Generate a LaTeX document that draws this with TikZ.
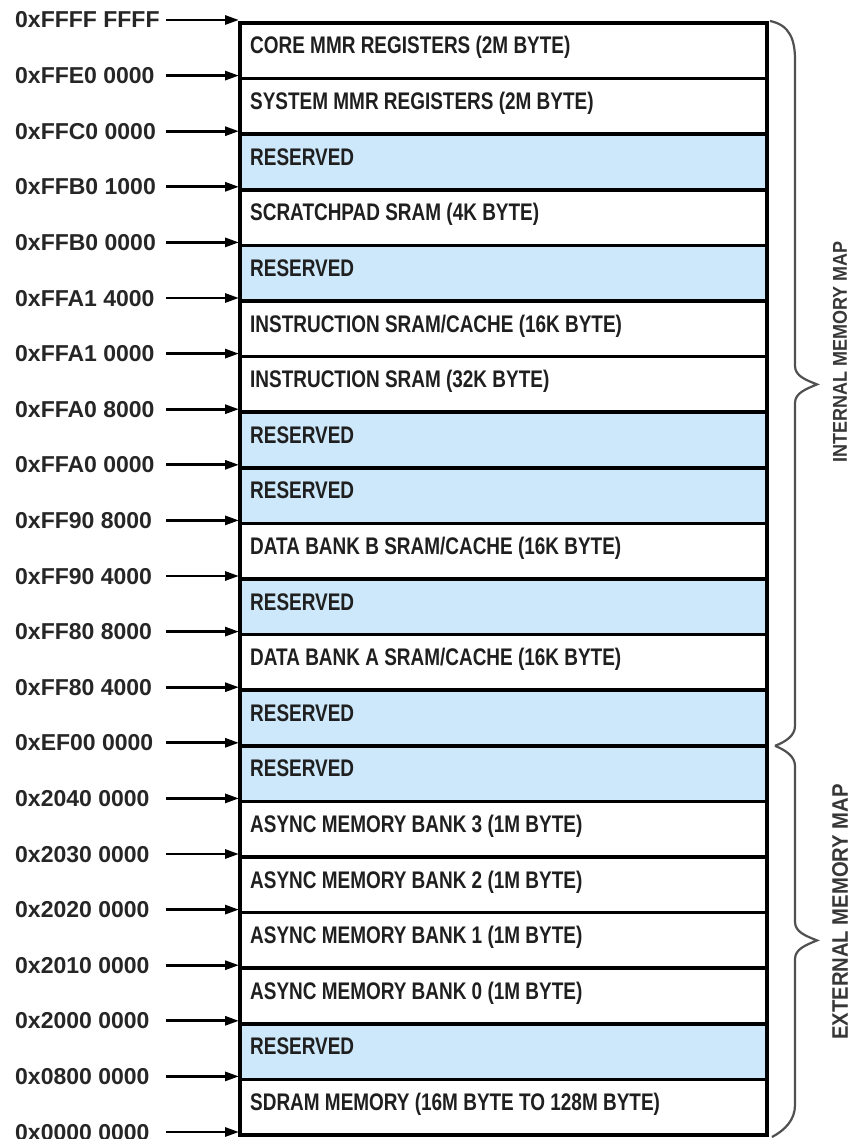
\documentclass[tikz,border=0pt]{standalone}
\usepackage{fontspec}
\setmainfont{Liberation Sans}
\newfontfamily\rowfont{Liberation Sans}[FakeStretch=0.79]
\newfontfamily\addrfont{Liberation Sans}[FakeStretch=1.0]
\newfontfamily\mapfont{Liberation Sans}[FakeStretch=0.9]
\usetikzlibrary{arrows.meta}
\definecolor{resblue}{RGB}{204,232,250}
\definecolor{bracegray}{RGB}{80,80,80}
\definecolor{maptext}{RGB}{55,55,55}
\tikzset{
  rowtext/.style={anchor=base west, inner sep=0pt, font=\rowfont\bfseries\fontsize{24}{26}\selectfont, text=black!88},
  addrtext/.style={anchor=base west, inner sep=0pt, font=\addrfont\bfseries\fontsize{23}{25}\selectfont, text=black!85},
  addrarrow/.style={line width=2.8pt, -{Triangle[length=14pt,width=9pt]}},
  sepline/.style={line width=3.5pt},
  frameline/.style={line width=3.5pt},
  bracepath/.style={line width=2.2pt, draw=bracegray},
  maplabel/.style={rotate=90, inner sep=0pt, text=maptext}
}
\begin{document}
\begin{tikzpicture}[x=1pt,y=-1pt]
\useasboundingbox (0,0) rectangle (853,1139);
\fill[white] (0,0) rectangle (853,1139);

% reserved fills
\foreach \k in {2,4,7,8,10,12,13,18}
  \fill[resblue] (240,{23+55.6*\k}) rectangle (767,{23+55.6*(\k+1)});

% separators
\foreach \k in {0,...,20}
  \draw[sepline] (240,{23+55.6*\k}) -- (767,{23+55.6*\k});
\draw[frameline] (240,21.25) -- (240,1136.75);
\draw[frameline] (767,21.25) -- (767,1136.75);

% row texts
\node[rowtext] (t0)  at (250,{23+55.6*0+31})  {CORE MMR REGISTERS (2M BYTE)};
\node[rowtext] (t1)  at (250,{23+55.6*1+31})  {SYSTEM MMR REGISTERS (2M BYTE)};
\node[rowtext] (t2)  at (250,{23+55.6*2+31})  {RESERVED};
\node[rowtext] (t3)  at (250,{23+55.6*3+31})  {SCRATCHPAD SRAM (4K BYTE)};
\node[rowtext] (t4)  at (250,{23+55.6*4+31})  {RESERVED};
\node[rowtext] (t5)  at (250,{23+55.6*5+31})  {INSTRUCTION SRAM/CACHE (16K BYTE)};
\node[rowtext] (t6)  at (250,{23+55.6*6+31})  {INSTRUCTION SRAM (32K BYTE)};
\node[rowtext] (t7)  at (250,{23+55.6*7+31})  {RESERVED};
\node[rowtext] (t8)  at (250,{23+55.6*8+31})  {RESERVED};
\node[rowtext] (t9)  at (250,{23+55.6*9+31})  {DATA BANK B SRAM/CACHE (16K BYTE)};
\node[rowtext] (t10) at (250,{23+55.6*10+31}) {RESERVED};
\node[rowtext] (t11) at (250,{23+55.6*11+31}) {DATA BANK A SRAM/CACHE (16K BYTE)};
\node[rowtext] (t12) at (250,{23+55.6*12+31}) {RESERVED};
\node[rowtext] (t13) at (250,{23+55.6*13+31}) {RESERVED};
\node[rowtext] (t14) at (250,{23+55.6*14+31}) {ASYNC MEMORY BANK 3 (1M BYTE)};
\node[rowtext] (t15) at (250,{23+55.6*15+31}) {ASYNC MEMORY BANK 2 (1M BYTE)};
\node[rowtext] (t16) at (250,{23+55.6*16+31}) {ASYNC MEMORY BANK 1 (1M BYTE)};
\node[rowtext] (t17) at (250,{23+55.6*17+31}) {ASYNC MEMORY BANK 0 (1M BYTE)};
\node[rowtext] (t18) at (250,{23+55.6*18+31}) {RESERVED};
\node[rowtext] (t19) at (250,{23+55.6*19+31}) {SDRAM MEMORY (16M BYTE TO 128M BYTE)};

% address labels
\node[addrtext] (a0)  at (15,{23+55.6*0+5})  {0xFFFF FFFF};
\node[addrtext] (a1)  at (15,{23+55.6*1+5})  {0xFFE0 0000};
\node[addrtext] (a2)  at (15,{23+55.6*2+5})  {0xFFC0 0000};
\node[addrtext] (a3)  at (15,{23+55.6*3+5})  {0xFFB0 1000};
\node[addrtext] (a4)  at (15,{23+55.6*4+5})  {0xFFB0 0000};
\node[addrtext] (a5)  at (15,{23+55.6*5+5})  {0xFFA1 4000};
\node[addrtext] (a6)  at (15,{23+55.6*6+5})  {0xFFA1 0000};
\node[addrtext] (a7)  at (15,{23+55.6*7+5})  {0xFFA0 8000};
\node[addrtext] (a8)  at (15,{23+55.6*8+5})  {0xFFA0 0000};
\node[addrtext] (a9)  at (15,{23+55.6*9+5})  {0xFF90 8000};
\node[addrtext] (a10) at (15,{23+55.6*10+5}) {0xFF90 4000};
\node[addrtext] (a11) at (15,{23+55.6*11+5}) {0xFF80 8000};
\node[addrtext] (a12) at (15,{23+55.6*12+5}) {0xFF80 4000};
\node[addrtext] (a13) at (15,{23+55.6*13+5}) {0xEF00 0000};
\node[addrtext] (a14) at (15,{23+55.6*14+5}) {0x2040 0000};
\node[addrtext] (a15) at (15,{23+55.6*15+5}) {0x2030 0000};
\node[addrtext] (a16) at (15,{23+55.6*16+5}) {0x2020 0000};
\node[addrtext] (a17) at (15,{23+55.6*17+5}) {0x2010 0000};
\node[addrtext] (a18) at (15,{23+55.6*18+5}) {0x2000 0000};
\node[addrtext] (a19) at (15,{23+55.6*19+5}) {0x0800 0000};
\node[addrtext] (a20) at (15,{23+55.6*20+5}) {0x0000 0000};

% arrows
\foreach \k in {0,...,20}{
  \coordinate (s\k) at (166,{23+55.6*\k-3});
  \coordinate (e\k) at (239,{23+55.6*\k-3});
  \draw[addrarrow] (s\k) -- (e\k);
}

% braces
\coordinate (bi0) at (770,21);
\coordinate (bj) at (775,745.8);
\coordinate (be1) at (772,1137);
\draw[bracepath] (bi0) .. controls (790,25) and (795,40) .. (795,60) -- (795,366)
  .. controls (795,376) and (806,380) .. (817,384.4)
  .. controls (806,389) and (795,393) .. (795,403) -- (795,726)
  .. controls (795,736) and (785,742) .. (bj);
\draw[bracepath] (bj) .. controls (785,750) and (795,756) .. (795,766) -- (795,922)
  .. controls (795,932) and (806,936) .. (817,940.4)
  .. controls (806,945) and (795,949) .. (795,959) -- (795,1105)
  .. controls (795,1120) and (785,1130) .. (be1);

% map labels
\node[maplabel, font=\mapfont\bfseries\fontsize{20}{22}\selectfont] (intmap) at (840,352) {INTERNAL MEMORY MAP};
\node[maplabel, font=\mapfont\bfseries\fontsize{22.5}{24}\selectfont] (extmap) at (840,912) {EXTERNAL MEMORY MAP};
\end{tikzpicture}
\end{document}
